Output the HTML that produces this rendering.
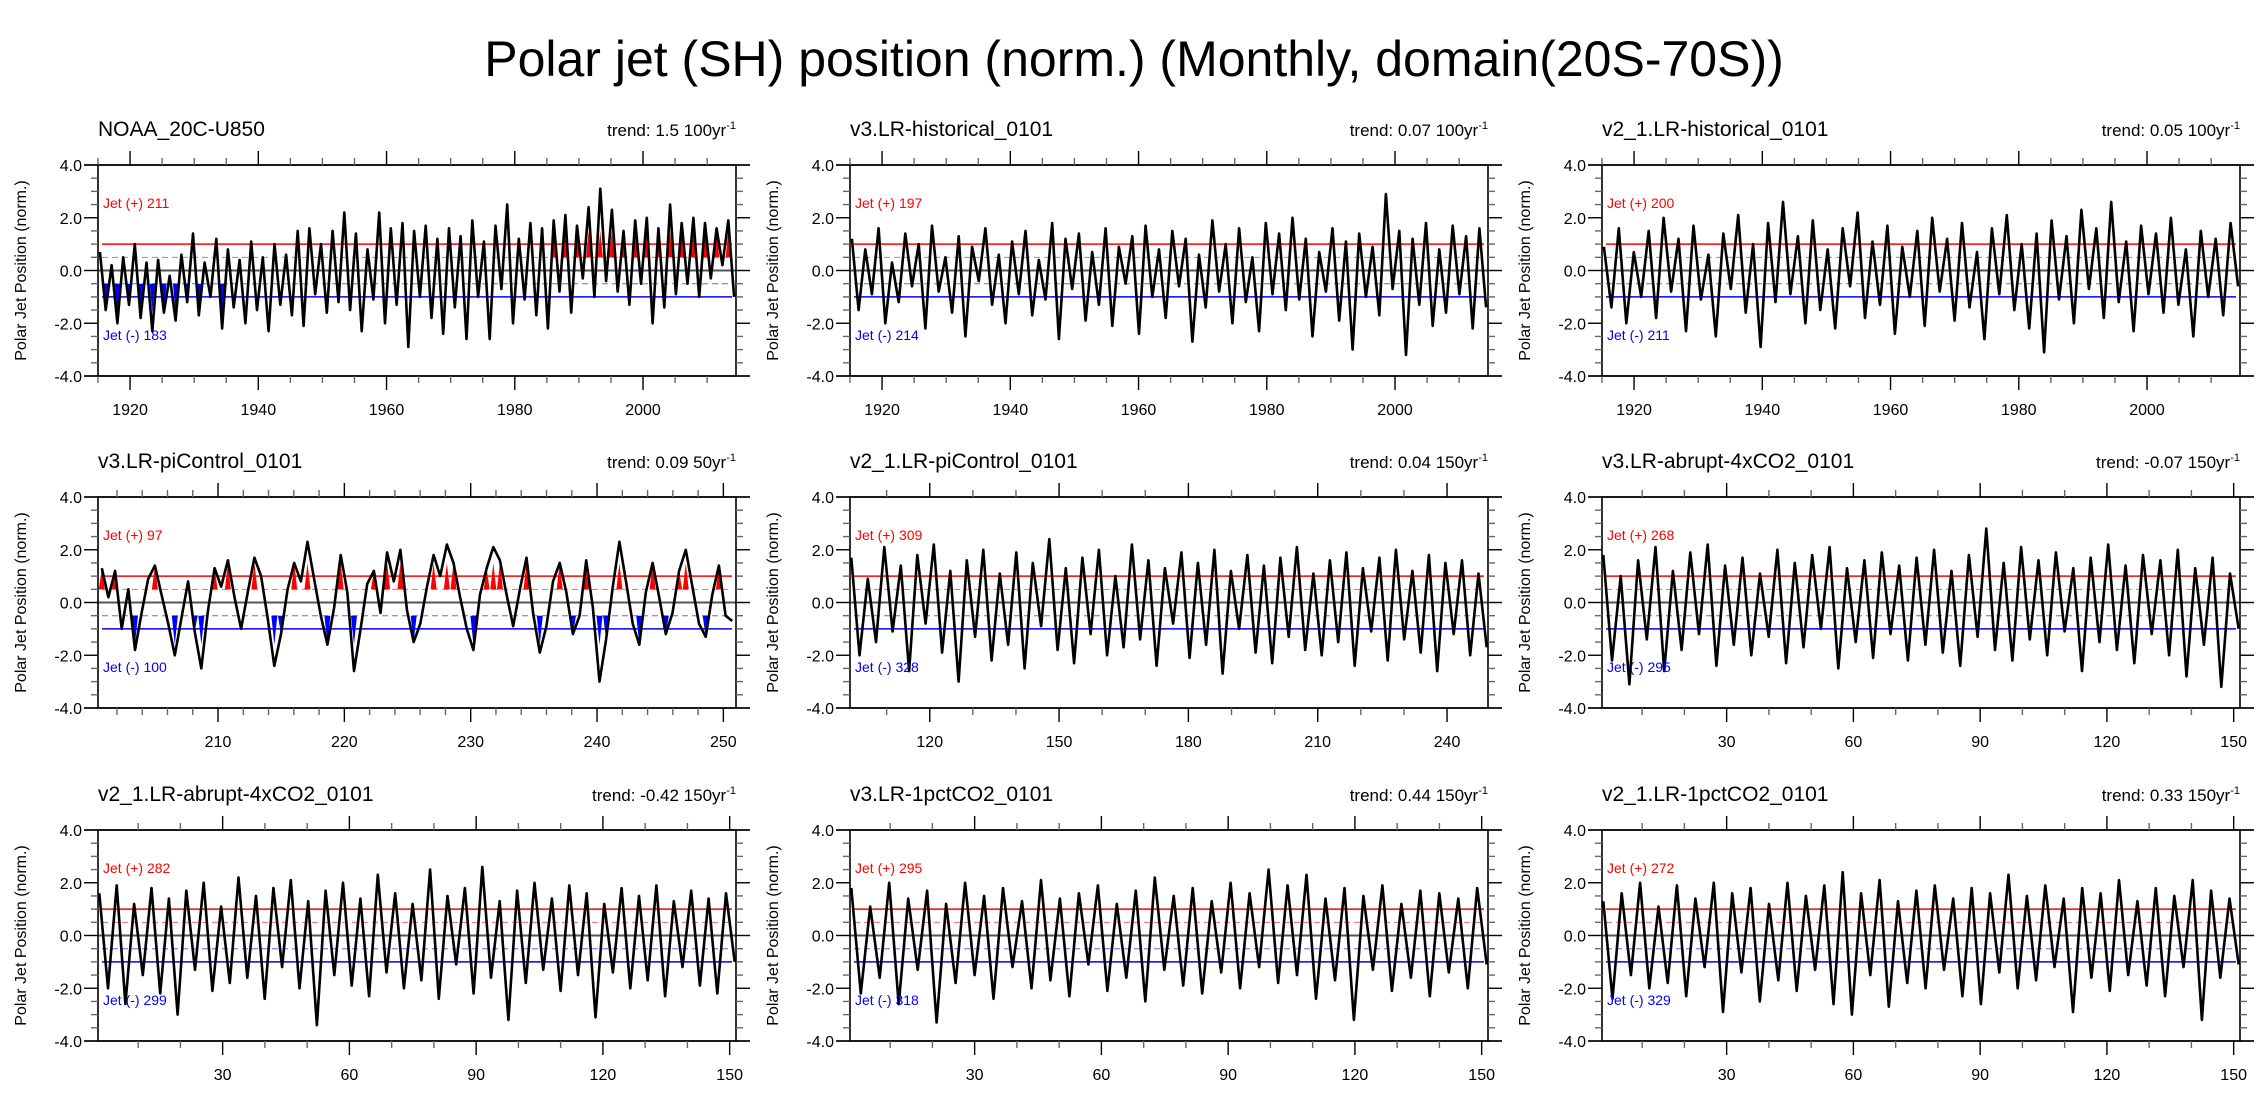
<!DOCTYPE html>
<html><head><meta charset="utf-8"><style>
html,body{margin:0;padding:0;background:#fff;}
svg{display:block;font-family:"Liberation Sans",Arial,sans-serif;}
</style></head><body>
<svg id="fig" width="2267" height="1111" viewBox="0 0 2267 1111" xmlns="http://www.w3.org/2000/svg">
<text x="1134" y="76" font-size="50" text-anchor="middle" fill="#000">Polar jet (SH) position (norm.) (Monthly, domain(20S-70S))</text>
</svg>
<script>
// ---- data ----
const titles = ["NOAA_20C-U850","v3.LR-historical_0101","v2_1.LR-historical_0101","v3.LR-piControl_0101","v2_1.LR-piControl_0101","v3.LR-abrupt-4xCO2_0101","v2_1.LR-abrupt-4xCO2_0101","v3.LR-1pctCO2_0101","v2_1.LR-1pctCO2_0101"];
const trendVals = ["1.5","0.07","0.05","0.09","0.04","-0.07","-0.42","0.44","0.33"];
const trendUnits = ["100yr","100yr","100yr","50yr","150yr","150yr","150yr","150yr","150yr"];
const jetPos = [211,197,200,97,309,268,282,295,272];
const jetNeg = [183,214,211,100,328,295,299,318,329];
const xStart = [1915,1915,1915,200.5,101.5,0.5,0.5,0.5,0.5];
const xEnd = [2014.5,2014.5,2014.5,251,249.5,151.5,151.5,151.5,151.5];
const majorStep = [20,20,20,10,30,30,30,30,30];
const minorStep = [5,5,5,2,10,10,10,10,10];
const posFillFrom = [1985,9999,9999,200,9999,9999,9999,9999,9999];
const negFillTo = [1936,0,0,252,0,0,0,0,0];
const yTicks = [4,2,0,-2,-4];
const yTickLabels = ["4.0","2.0","0.0","-2.0","-4.0"];

const s1 = [0.7,-1.5,0.2,-2.0,0.5,-1.3,1.0,-1.8,0.3,-2.3,0.4,-1.6,-0.2,-1.9,0.6,-1.2,1.4,-1.7,0.3,-1.0,1.2,-2.2,0.8,-1.4,0.4,-2.0,1.1,-1.5,0.5,-2.3,1.0,-1.3,0.6,-1.7,1.5,-2.1,1.6,-0.9,1.0,-1.6,1.5,-1.2,2.2,-1.5,1.4,-2.3,0.8,-1.1,2.2,-2.0,1.6,-1.3,1.8,-2.9,1.5,-1.0,1.7,-1.8,1.2,-2.4,1.6,-1.4,1.3,-2.6,1.9,-1.0,1.1,-2.6,1.7,-0.7,2.5,-2.0,1.2,-1.1,1.8,-1.7,1.6,-2.2,1.9,-0.8,2.1,-1.6,1.7,-0.3,2.4,-1.0,3.1,-0.4,2.3,-0.8,1.5,-1.3,1.9,-0.5,2.0,-2.0,1.6,-1.4,2.5,-0.9,1.8,-0.5,2.0,-1.0,1.8,-0.3,1.6,0.2,1.9,-1.0];
const s2 = [1.2,-1.5,0.8,-0.9,1.6,-2.0,0.3,-1.2,1.4,-0.6,1.0,-2.2,1.7,-0.8,0.5,-1.6,1.3,-2.5,0.9,-0.4,1.6,-1.3,0.6,-2.0,1.1,-0.9,1.5,-1.7,0.4,-1.1,1.8,-2.6,1.2,-0.7,1.4,-1.9,0.7,-1.3,1.6,-2.1,0.9,-0.5,1.3,-2.4,1.7,-1.0,0.8,-1.8,1.5,-0.6,1.2,-2.7,0.6,-1.4,1.9,-0.8,1.0,-2.0,1.6,-1.2,0.5,-2.3,1.8,-0.9,1.4,-1.5,2.0,-1.1,1.2,-2.5,0.7,-0.8,1.6,-1.9,1.1,-3.0,1.4,-1.0,0.9,-1.7,2.9,-0.7,1.5,-3.2,1.2,-1.3,1.8,-2.1,0.8,-1.6,1.7,-0.9,1.3,-2.2,1.6,-1.4];
const s3 = [0.9,-1.4,1.6,-2.0,0.7,-1.0,1.5,-1.8,2.0,-0.8,1.2,-2.3,1.7,-1.1,0.6,-2.5,1.4,-0.7,2.1,-1.6,1.0,-2.9,1.8,-1.2,2.6,-0.9,1.3,-2.0,1.9,-1.5,0.8,-2.2,1.6,-0.6,2.2,-1.8,1.1,-1.3,1.7,-2.4,0.9,-1.0,1.5,-2.1,2.0,-0.8,1.2,-1.9,1.8,-1.4,0.7,-2.6,1.6,-0.9,2.1,-1.5,1.0,-2.2,1.4,-3.1,1.9,-1.1,1.3,-2.0,2.3,-0.7,1.6,-1.8,2.6,-1.2,1.1,-2.3,1.7,-0.9,1.4,-1.6,2.0,-1.3,0.8,-2.5,1.5,-1.0,1.2,-1.7,1.8,-0.6];
const s4 = [1.3,0.2,1.2,-1.0,0.5,-1.8,-0.4,0.9,1.4,0.3,-0.8,-2.0,-0.6,0.8,-1.1,-2.5,-0.3,1.3,0.6,1.6,0.2,-1.0,0.4,1.7,1.0,-0.6,-2.4,-1.2,0.5,1.5,0.8,2.3,0.9,-0.5,-1.6,-0.2,1.8,0.4,-2.6,-1.0,0.7,1.2,-0.4,1.9,0.8,2.0,-0.3,-1.5,-0.8,0.6,1.8,1.0,2.2,1.5,0.2,-1.0,-1.8,0.3,1.3,2.1,1.6,0.3,-0.9,0.5,1.7,-0.4,-1.9,-0.9,0.8,1.5,0.4,-1.2,-0.5,1.6,-0.2,-3.0,-1.4,0.6,2.3,0.8,-0.8,-1.6,0.4,1.5,0.2,-1.2,-0.4,1.2,2.0,0.6,-0.8,-1.3,0.3,1.4,-0.5,-0.7];
const s5 = [1.7,-2.0,0.9,-1.5,2.1,-1.1,1.4,-2.6,1.8,-0.8,2.2,-1.9,1.2,-3.0,1.6,-1.3,2.0,-2.2,1.1,-1.6,1.9,-2.5,1.5,-0.9,2.4,-1.8,1.3,-2.3,1.7,-1.2,2.0,-2.0,1.0,-1.7,2.2,-1.4,1.6,-2.4,1.3,-0.8,1.9,-2.1,1.5,-1.6,2.0,-2.7,1.2,-1.0,1.8,-1.9,1.4,-2.3,1.7,-1.3,2.1,-1.8,1.1,-2.0,1.6,-1.5,1.9,-2.4,1.3,-1.1,1.7,-2.2,2.0,-1.4,1.2,-1.9,1.8,-2.6,1.5,-1.2,1.6,-2.0,1.1,-1.7];
const s6 = [1.8,-2.2,1.0,-3.1,1.6,-1.4,2.1,-2.6,1.2,-1.8,1.9,-1.2,2.2,-2.4,1.4,-1.6,1.7,-2.0,1.1,-1.3,2.0,-2.3,1.5,-1.7,1.8,-1.0,2.1,-2.5,1.3,-1.5,1.6,-2.1,1.9,-1.2,1.4,-2.2,1.7,-1.6,2.0,-1.9,1.2,-2.4,1.8,-1.3,2.8,-1.8,1.5,-2.2,2.1,-1.4,1.6,-2.0,1.9,-1.1,1.3,-2.6,1.7,-1.5,2.2,-1.8,1.4,-2.3,1.8,-1.2,1.6,-2.0,2.0,-2.8,1.3,-1.6,1.7,-3.2,1.1,-1.0];
const s7 = [1.6,-2.0,1.9,-2.6,1.2,-1.5,1.8,-2.2,1.4,-3.0,1.7,-1.3,2.0,-2.1,1.1,-1.8,2.2,-1.6,1.5,-2.4,1.8,-1.2,2.1,-2.0,1.3,-3.4,1.7,-1.5,2.0,-1.9,1.4,-2.3,2.3,-1.4,1.6,-2.0,1.2,-1.7,2.5,-2.4,1.5,-1.1,1.8,-2.2,2.6,-1.6,1.3,-3.2,1.7,-1.8,2.0,-1.3,1.4,-2.1,1.9,-1.5,1.6,-3.1,1.2,-1.4,1.8,-2.0,1.5,-1.7,1.9,-2.3,1.3,-1.2,1.7,-1.9,1.4,-2.2,1.6,-1.0];
const s8 = [1.8,-2.2,1.1,-1.6,2.0,-2.6,1.4,-1.3,1.7,-3.3,1.2,-1.8,2.0,-1.5,1.5,-2.4,1.8,-1.2,1.3,-2.0,2.1,-1.7,1.4,-2.3,1.6,-1.1,1.9,-2.1,1.2,-1.6,1.7,-2.5,2.2,-1.3,1.5,-1.9,1.8,-2.2,1.3,-1.4,2.0,-2.0,1.6,-1.2,2.5,-1.8,1.9,-1.5,2.3,-2.4,1.4,-1.7,1.8,-3.2,1.5,-1.3,1.9,-2.1,1.2,-1.6,1.7,-2.3,1.6,-1.4,1.4,-2.0,1.8,-1.1];
const s9 = [1.3,-2.4,1.6,-1.5,2.0,-2.0,1.1,-1.8,1.9,-2.3,1.4,-1.2,2.0,-2.9,1.6,-1.4,1.8,-2.5,1.2,-1.7,2.0,-2.1,1.5,-1.3,1.9,-2.6,2.4,-3.0,1.6,-1.5,2.1,-2.7,1.3,-1.8,1.7,-2.0,1.9,-1.3,1.4,-2.3,1.8,-2.6,1.6,-1.4,2.3,-2.0,1.5,-1.7,1.9,-1.2,1.4,-2.9,1.8,-1.6,1.6,-2.1,2.1,-1.5,1.3,-1.9,1.8,-2.3,1.5,-1.2,2.1,-3.2,1.7,-1.6,1.4,-1.1];
const series = [s1,s2,s3,s4,s5,s6,s7,s8,s9];

// ---- layout ----
const NS = "http://www.w3.org/2000/svg";
const svg = document.getElementById("fig");
const colX = [98, 850, 1602];
const rowY = [165, 497, 830];
const PW = 638, PH = 211;
function mk(tag, attrs, parent){
  const e = document.createElementNS(NS, tag);
  for (const k in attrs) e.setAttribute(k, attrs[k]);
  (parent||svg).appendChild(e);
  return e;
}

for (let p = 0; p < 9; p++) {
  const L = colX[p%3], T = rowY[Math.floor(p/3)], R = L+PW, B = T+PH;
  const g = mk("g", {});
  
  
  const xs = v => L + (v - xStart[p]) / (xEnd[p] - xStart[p]) * PW;
  const ys = v => T + (4 - v) / 8 * PH;

  const tt = mk("text", {x:L, y:T-29, "font-size":21}, g);
  tt.textContent = titles[p];
  
  
  const tr = mk("text", {x:R, y:T-29, "font-size":17, "text-anchor":"end"}, g);
  tr.textContent = "trend: " + trendVals[p] + " " + trendUnits[p];
  const sup = mk("tspan", {dy:-7, "font-size":11}, tr); sup.textContent = "-1";
  
  

  const refs = [[1,"#f00",1.6,""],[-1,"#00f",1.6,""],[0.5,"#f66",1,"6 4"],[-0.5,"#66f",1,"6 4"]];
  refs.forEach(r => {
    const ln = mk("line", {x1:L+4, x2:R-4, y1:ys(r[0]), y2:ys(r[0]), stroke:r[1], "stroke-width":r[2], "stroke-dasharray":r[3]}, g);
    
    
  });

  const vals = series[p];
  const n = vals.length;
  const tx = i => xStart[p] + 0.3 + i * (xEnd[p] - xStart[p] - 0.6) / (n - 1);
  let redD = "", blueD = "";
  for (let i = 0; i < n; i++) {
    const v = vals[i], t = tx(i);
    const w = PW / n * 0.45;
    if (v > 1 && t >= posFillFrom[p]) {
      redD += `M${xs(t)-w},${ys(0.5)}L${xs(t)},${ys(v>1.5?1.5:v)}L${xs(t)+w},${ys(0.5)}Z`;
    }
    if (v < -1 && t <= negFillTo[p]) {
      blueD += `M${xs(t)-w},${ys(-0.5)}L${xs(t)},${ys(v<-1.6?-1.6:v)}L${xs(t)+w},${ys(-0.5)}Z`;
    }
  }
  const rf = mk("path", {d:redD||"M0,0", fill:"#f00"}, g);
  
  
  const bf = mk("path", {d:blueD||"M0,0", fill:"#00f"}, g);
  
  

  const zl = mk("line", {x1:L, x2:R, y1:ys(0), y2:ys(0), stroke:"#555", "stroke-width":2}, g);
  
  

  let pts = [];
  for (let i = 0; i < n; i++) pts.push(xs(tx(i)).toFixed(1) + "," + ys(vals[i]).toFixed(1));
  const pl = mk("polyline", {points:pts.join(" "), fill:"none", stroke:"#000", "stroke-width":2.6, "stroke-linejoin":"round"}, g);
  
  

  const fr = mk("rect", {x:L, y:T, width:PW, height:PH, fill:"none", stroke:"#000", "stroke-width":1.6}, g);
  
  
  mk("line", {x1:L-14, x2:R+14, y1:B, y2:B, stroke:"#000", "stroke-width":1.6}, g);
  mk("line", {x1:L-14, x2:R+14, y1:T, y2:T, stroke:"#000", "stroke-width":1.6}, g);

  const first = Math.ceil(xStart[p] / minorStep[p]) * minorStep[p];
  for (let v = first; v <= xEnd[p]; v += minorStep[p]) {
    const x = xs(v);
    const major = Math.abs(v / majorStep[p] - Math.round(v / majorStep[p])) < 1e-6;
    const len = major ? 14 : 7;
    mk("line", {x1:x, x2:x, y1:B, y2:B+len, stroke: major?"#000":"#666", "stroke-width":1.4}, g);
    mk("line", {x1:x, x2:x, y1:T, y2:T-len, stroke: major?"#000":"#666", "stroke-width":1.4}, g);
    if (major) {
      const lb = mk("text", {x:x, y:B+39, "font-size":16, "text-anchor":"middle"}, g);
      lb.textContent = String(v);
      
      
    }
  }
  for (let v = -4; v <= 4.001; v += 0.5) {
    const y = ys(v);
    const major = Math.abs(v/2 - Math.round(v/2)) < 1e-6;
    const len = major ? 14 : 7;
    mk("line", {x1:L, x2:L-len, y1:y, y2:y, stroke: major?"#000":"#666", "stroke-width":1.4}, g);
    mk("line", {x1:R, x2:R+len, y1:y, y2:y, stroke: major?"#000":"#666", "stroke-width":1.4}, g);
  }
  yTicks.forEach((v, i) => {
    const lb = mk("text", {x:L-16, y:ys(v)+6, "font-size":16, "text-anchor":"end"}, g);
    lb.textContent = yTickLabels[i];
    
    
  });
  const yl = mk("text", {x:0, y:0, "font-size":16, "text-anchor":"middle", transform:`translate(${L-72},${T+PH/2}) rotate(-90)`}, g);
  yl.textContent = "Polar Jet Position (norm.)";
  
  

  const jp = mk("text", {x:L+5, y:ys(2.55)+5, "font-size":14, fill:"#f00"}, g);
  jp.textContent = "Jet (+) " + jetPos[p];
  
  
  const jn = mk("text", {x:L+5, y:ys(-2.45)+5, "font-size":14, fill:"#00f"}, g);
  jn.textContent = "Jet (-) " + jetNeg[p];
  
  
}
</script>
</body></html>
